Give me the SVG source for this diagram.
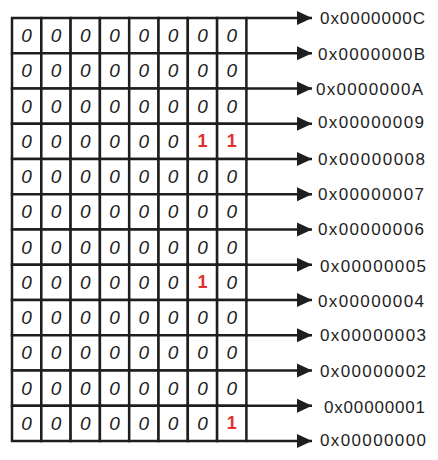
<svg xmlns="http://www.w3.org/2000/svg" width="438" height="460" viewBox="0 0 438 460">
<defs>
<style>
.cell{fill:#fff;stroke:#1e1e1e;stroke-width:2.5}
.d{font-family:"Liberation Sans",Arial,sans-serif;font-size:19px;font-style:italic;fill:#1e1e1e;text-anchor:middle;dominant-baseline:central}
.r{font-family:"Liberation Sans",Arial,sans-serif;font-size:18px;font-weight:bold;fill:#e03131;text-anchor:middle;dominant-baseline:central}
.lbl{font-family:"Liberation Sans",Arial,sans-serif;font-size:17px;fill:#1e1e1e;dominant-baseline:central}
.arr{stroke:#1e1e1e;stroke-width:2.5;fill:none;marker-end:url(#ah)}
</style>
<marker id="ah" markerUnits="userSpaceOnUse" markerWidth="17" markerHeight="17" refX="16" refY="8.5" orient="auto">
<path d="M1,1.5 L16,8.5 L1,15.5 z" fill="#1e1e1e"/>
</marker>
</defs>
<rect width="438" height="460" fill="#fff"/>
<g id="grid">
<g id="row-0c"><rect class="cell" x="12" y="18" width="29.3" height="35.25"/><rect class="cell" x="41.3" y="18" width="29.3" height="35.25"/><rect class="cell" x="70.6" y="18" width="29.3" height="35.25"/><rect class="cell" x="99.9" y="18" width="29.3" height="35.25"/><rect class="cell" x="129.2" y="18" width="29.3" height="35.25"/><rect class="cell" x="158.5" y="18" width="29.3" height="35.25"/><rect class="cell" x="187.8" y="18" width="29.3" height="35.25"/><rect class="cell" x="217.1" y="18" width="29.3" height="35.25"/>
<text class="d" x="26.65" y="35.6">0</text><text class="d" x="55.95" y="35.6">0</text><text class="d" x="85.25" y="35.6">0</text><text class="d" x="114.55" y="35.6">0</text><text class="d" x="143.85" y="35.6">0</text><text class="d" x="173.15" y="35.6">0</text><text class="d" x="202.45" y="35.6">0</text><text class="d" x="231.75" y="35.6">0</text></g>
<g id="row-0b"><rect class="cell" x="12" y="53.25" width="29.3" height="35.25"/><rect class="cell" x="41.3" y="53.25" width="29.3" height="35.25"/><rect class="cell" x="70.6" y="53.25" width="29.3" height="35.25"/><rect class="cell" x="99.9" y="53.25" width="29.3" height="35.25"/><rect class="cell" x="129.2" y="53.25" width="29.3" height="35.25"/><rect class="cell" x="158.5" y="53.25" width="29.3" height="35.25"/><rect class="cell" x="187.8" y="53.25" width="29.3" height="35.25"/><rect class="cell" x="217.1" y="53.25" width="29.3" height="35.25"/>
<text class="d" x="26.65" y="70.9">0</text><text class="d" x="55.95" y="70.9">0</text><text class="d" x="85.25" y="70.9">0</text><text class="d" x="114.55" y="70.9">0</text><text class="d" x="143.85" y="70.9">0</text><text class="d" x="173.15" y="70.9">0</text><text class="d" x="202.45" y="70.9">0</text><text class="d" x="231.75" y="70.9">0</text></g>
<g id="row-0a"><rect class="cell" x="12" y="88.5" width="29.3" height="35.25"/><rect class="cell" x="41.3" y="88.5" width="29.3" height="35.25"/><rect class="cell" x="70.6" y="88.5" width="29.3" height="35.25"/><rect class="cell" x="99.9" y="88.5" width="29.3" height="35.25"/><rect class="cell" x="129.2" y="88.5" width="29.3" height="35.25"/><rect class="cell" x="158.5" y="88.5" width="29.3" height="35.25"/><rect class="cell" x="187.8" y="88.5" width="29.3" height="35.25"/><rect class="cell" x="217.1" y="88.5" width="29.3" height="35.25"/>
<text class="d" x="26.65" y="106.1">0</text><text class="d" x="55.95" y="106.1">0</text><text class="d" x="85.25" y="106.1">0</text><text class="d" x="114.55" y="106.1">0</text><text class="d" x="143.85" y="106.1">0</text><text class="d" x="173.15" y="106.1">0</text><text class="d" x="202.45" y="106.1">0</text><text class="d" x="231.75" y="106.1">0</text></g>
<g id="row-09"><rect class="cell" x="12" y="123.75" width="29.3" height="35.25"/><rect class="cell" x="41.3" y="123.75" width="29.3" height="35.25"/><rect class="cell" x="70.6" y="123.75" width="29.3" height="35.25"/><rect class="cell" x="99.9" y="123.75" width="29.3" height="35.25"/><rect class="cell" x="129.2" y="123.75" width="29.3" height="35.25"/><rect class="cell" x="158.5" y="123.75" width="29.3" height="35.25"/><rect class="cell" x="187.8" y="123.75" width="29.3" height="35.25"/><rect class="cell" x="217.1" y="123.75" width="29.3" height="35.25"/>
<text class="d" x="26.65" y="141.4">0</text><text class="d" x="55.95" y="141.4">0</text><text class="d" x="85.25" y="141.4">0</text><text class="d" x="114.55" y="141.4">0</text><text class="d" x="143.85" y="141.4">0</text><text class="d" x="173.15" y="141.4">0</text><text class="r" x="202.45" y="141.4">1</text><text class="r" x="231.75" y="141.4">1</text></g>
<g id="row-08"><rect class="cell" x="12" y="159" width="29.3" height="35.25"/><rect class="cell" x="41.3" y="159" width="29.3" height="35.25"/><rect class="cell" x="70.6" y="159" width="29.3" height="35.25"/><rect class="cell" x="99.9" y="159" width="29.3" height="35.25"/><rect class="cell" x="129.2" y="159" width="29.3" height="35.25"/><rect class="cell" x="158.5" y="159" width="29.3" height="35.25"/><rect class="cell" x="187.8" y="159" width="29.3" height="35.25"/><rect class="cell" x="217.1" y="159" width="29.3" height="35.25"/>
<text class="d" x="26.65" y="176.6">0</text><text class="d" x="55.95" y="176.6">0</text><text class="d" x="85.25" y="176.6">0</text><text class="d" x="114.55" y="176.6">0</text><text class="d" x="143.85" y="176.6">0</text><text class="d" x="173.15" y="176.6">0</text><text class="d" x="202.45" y="176.6">0</text><text class="d" x="231.75" y="176.6">0</text></g>
<g id="row-07"><rect class="cell" x="12" y="194.25" width="29.3" height="35.25"/><rect class="cell" x="41.3" y="194.25" width="29.3" height="35.25"/><rect class="cell" x="70.6" y="194.25" width="29.3" height="35.25"/><rect class="cell" x="99.9" y="194.25" width="29.3" height="35.25"/><rect class="cell" x="129.2" y="194.25" width="29.3" height="35.25"/><rect class="cell" x="158.5" y="194.25" width="29.3" height="35.25"/><rect class="cell" x="187.8" y="194.25" width="29.3" height="35.25"/><rect class="cell" x="217.1" y="194.25" width="29.3" height="35.25"/>
<text class="d" x="26.65" y="211.9">0</text><text class="d" x="55.95" y="211.9">0</text><text class="d" x="85.25" y="211.9">0</text><text class="d" x="114.55" y="211.9">0</text><text class="d" x="143.85" y="211.9">0</text><text class="d" x="173.15" y="211.9">0</text><text class="d" x="202.45" y="211.9">0</text><text class="d" x="231.75" y="211.9">0</text></g>
<g id="row-06"><rect class="cell" x="12" y="229.5" width="29.3" height="35.25"/><rect class="cell" x="41.3" y="229.5" width="29.3" height="35.25"/><rect class="cell" x="70.6" y="229.5" width="29.3" height="35.25"/><rect class="cell" x="99.9" y="229.5" width="29.3" height="35.25"/><rect class="cell" x="129.2" y="229.5" width="29.3" height="35.25"/><rect class="cell" x="158.5" y="229.5" width="29.3" height="35.25"/><rect class="cell" x="187.8" y="229.5" width="29.3" height="35.25"/><rect class="cell" x="217.1" y="229.5" width="29.3" height="35.25"/>
<text class="d" x="26.65" y="247.1">0</text><text class="d" x="55.95" y="247.1">0</text><text class="d" x="85.25" y="247.1">0</text><text class="d" x="114.55" y="247.1">0</text><text class="d" x="143.85" y="247.1">0</text><text class="d" x="173.15" y="247.1">0</text><text class="d" x="202.45" y="247.1">0</text><text class="d" x="231.75" y="247.1">0</text></g>
<g id="row-05"><rect class="cell" x="12" y="264.75" width="29.3" height="35.25"/><rect class="cell" x="41.3" y="264.75" width="29.3" height="35.25"/><rect class="cell" x="70.6" y="264.75" width="29.3" height="35.25"/><rect class="cell" x="99.9" y="264.75" width="29.3" height="35.25"/><rect class="cell" x="129.2" y="264.75" width="29.3" height="35.25"/><rect class="cell" x="158.5" y="264.75" width="29.3" height="35.25"/><rect class="cell" x="187.8" y="264.75" width="29.3" height="35.25"/><rect class="cell" x="217.1" y="264.75" width="29.3" height="35.25"/>
<text class="d" x="26.65" y="282.4">0</text><text class="d" x="55.95" y="282.4">0</text><text class="d" x="85.25" y="282.4">0</text><text class="d" x="114.55" y="282.4">0</text><text class="d" x="143.85" y="282.4">0</text><text class="d" x="173.15" y="282.4">0</text><text class="r" x="202.45" y="282.4">1</text><text class="d" x="231.75" y="282.4">0</text></g>
<g id="row-04"><rect class="cell" x="12" y="300" width="29.3" height="35.25"/><rect class="cell" x="41.3" y="300" width="29.3" height="35.25"/><rect class="cell" x="70.6" y="300" width="29.3" height="35.25"/><rect class="cell" x="99.9" y="300" width="29.3" height="35.25"/><rect class="cell" x="129.2" y="300" width="29.3" height="35.25"/><rect class="cell" x="158.5" y="300" width="29.3" height="35.25"/><rect class="cell" x="187.8" y="300" width="29.3" height="35.25"/><rect class="cell" x="217.1" y="300" width="29.3" height="35.25"/>
<text class="d" x="26.65" y="317.6">0</text><text class="d" x="55.95" y="317.6">0</text><text class="d" x="85.25" y="317.6">0</text><text class="d" x="114.55" y="317.6">0</text><text class="d" x="143.85" y="317.6">0</text><text class="d" x="173.15" y="317.6">0</text><text class="d" x="202.45" y="317.6">0</text><text class="d" x="231.75" y="317.6">0</text></g>
<g id="row-03"><rect class="cell" x="12" y="335.25" width="29.3" height="35.25"/><rect class="cell" x="41.3" y="335.25" width="29.3" height="35.25"/><rect class="cell" x="70.6" y="335.25" width="29.3" height="35.25"/><rect class="cell" x="99.9" y="335.25" width="29.3" height="35.25"/><rect class="cell" x="129.2" y="335.25" width="29.3" height="35.25"/><rect class="cell" x="158.5" y="335.25" width="29.3" height="35.25"/><rect class="cell" x="187.8" y="335.25" width="29.3" height="35.25"/><rect class="cell" x="217.1" y="335.25" width="29.3" height="35.25"/>
<text class="d" x="26.65" y="352.9">0</text><text class="d" x="55.95" y="352.9">0</text><text class="d" x="85.25" y="352.9">0</text><text class="d" x="114.55" y="352.9">0</text><text class="d" x="143.85" y="352.9">0</text><text class="d" x="173.15" y="352.9">0</text><text class="d" x="202.45" y="352.9">0</text><text class="d" x="231.75" y="352.9">0</text></g>
<g id="row-02"><rect class="cell" x="12" y="370.5" width="29.3" height="35.25"/><rect class="cell" x="41.3" y="370.5" width="29.3" height="35.25"/><rect class="cell" x="70.6" y="370.5" width="29.3" height="35.25"/><rect class="cell" x="99.9" y="370.5" width="29.3" height="35.25"/><rect class="cell" x="129.2" y="370.5" width="29.3" height="35.25"/><rect class="cell" x="158.5" y="370.5" width="29.3" height="35.25"/><rect class="cell" x="187.8" y="370.5" width="29.3" height="35.25"/><rect class="cell" x="217.1" y="370.5" width="29.3" height="35.25"/>
<text class="d" x="26.65" y="388.1">0</text><text class="d" x="55.95" y="388.1">0</text><text class="d" x="85.25" y="388.1">0</text><text class="d" x="114.55" y="388.1">0</text><text class="d" x="143.85" y="388.1">0</text><text class="d" x="173.15" y="388.1">0</text><text class="d" x="202.45" y="388.1">0</text><text class="d" x="231.75" y="388.1">0</text></g>
<g id="row-01"><rect class="cell" x="12" y="405.75" width="29.3" height="35.25"/><rect class="cell" x="41.3" y="405.75" width="29.3" height="35.25"/><rect class="cell" x="70.6" y="405.75" width="29.3" height="35.25"/><rect class="cell" x="99.9" y="405.75" width="29.3" height="35.25"/><rect class="cell" x="129.2" y="405.75" width="29.3" height="35.25"/><rect class="cell" x="158.5" y="405.75" width="29.3" height="35.25"/><rect class="cell" x="187.8" y="405.75" width="29.3" height="35.25"/><rect class="cell" x="217.1" y="405.75" width="29.3" height="35.25"/>
<text class="d" x="26.65" y="423.4">0</text><text class="d" x="55.95" y="423.4">0</text><text class="d" x="85.25" y="423.4">0</text><text class="d" x="114.55" y="423.4">0</text><text class="d" x="143.85" y="423.4">0</text><text class="d" x="173.15" y="423.4">0</text><text class="d" x="202.45" y="423.4">0</text><text class="r" x="231.75" y="423.4">1</text></g>
</g>
<g id="connectors">
<line class="arr" x1="246.4" y1="18" x2="312" y2="18"/>
<line class="arr" x1="246.4" y1="53.25" x2="312" y2="53.25"/>
<line class="arr" x1="246.4" y1="88.5" x2="312" y2="88.5"/>
<line class="arr" x1="246.4" y1="123.75" x2="312" y2="123.75"/>
<line class="arr" x1="246.4" y1="159" x2="312" y2="159"/>
<line class="arr" x1="246.4" y1="194.25" x2="312" y2="194.25"/>
<line class="arr" x1="246.4" y1="229.5" x2="312" y2="229.5"/>
<line class="arr" x1="246.4" y1="264.75" x2="312" y2="264.75"/>
<line class="arr" x1="246.4" y1="300" x2="312" y2="300"/>
<line class="arr" x1="246.4" y1="335.25" x2="312" y2="335.25"/>
<line class="arr" x1="246.4" y1="370.5" x2="312" y2="370.5"/>
<line class="arr" x1="246.4" y1="405.75" x2="312" y2="405.75"/>
<line class="arr" x1="246.4" y1="441" x2="312" y2="441"/>
</g>
<g id="labels">
<g id="lbl-0c"><text class="lbl" x="320" y="18" textLength="105" lengthAdjust="spacing">0x0000000C</text></g>
<g id="lbl-0b"><text class="lbl" x="318" y="54" textLength="107" lengthAdjust="spacing">0x0000000B</text></g>
<g id="lbl-0a"><text class="lbl" x="316" y="89" textLength="107" lengthAdjust="spacing">0x0000000A</text></g>
<g id="lbl-09"><text class="lbl" x="318" y="122" textLength="106" lengthAdjust="spacing">0x00000009</text></g>
<g id="lbl-08"><text class="lbl" x="318" y="159" textLength="107" lengthAdjust="spacing">0x00000008</text></g>
<g id="lbl-07"><text class="lbl" x="318" y="194" textLength="106" lengthAdjust="spacing">0x00000007</text></g>
<g id="lbl-06"><text class="lbl" x="318" y="229" textLength="106" lengthAdjust="spacing">0x00000006</text></g>
<g id="lbl-05"><text class="lbl" x="320" y="266" textLength="106" lengthAdjust="spacing">0x00000005</text></g>
<g id="lbl-04"><text class="lbl" x="318" y="301" textLength="106" lengthAdjust="spacing">0x00000004</text></g>
<g id="lbl-03"><text class="lbl" x="320" y="335" textLength="106" lengthAdjust="spacing">0x00000003</text></g>
<g id="lbl-02"><text class="lbl" x="320" y="371" textLength="106" lengthAdjust="spacing">0x00000002</text></g>
<g id="lbl-01"><text class="lbl" x="324" y="407" textLength="101" lengthAdjust="spacing">0x00000001</text></g>
<g id="lbl-00"><text class="lbl" x="320" y="440" textLength="106" lengthAdjust="spacing">0x00000000</text></g>
</g>
</svg>
